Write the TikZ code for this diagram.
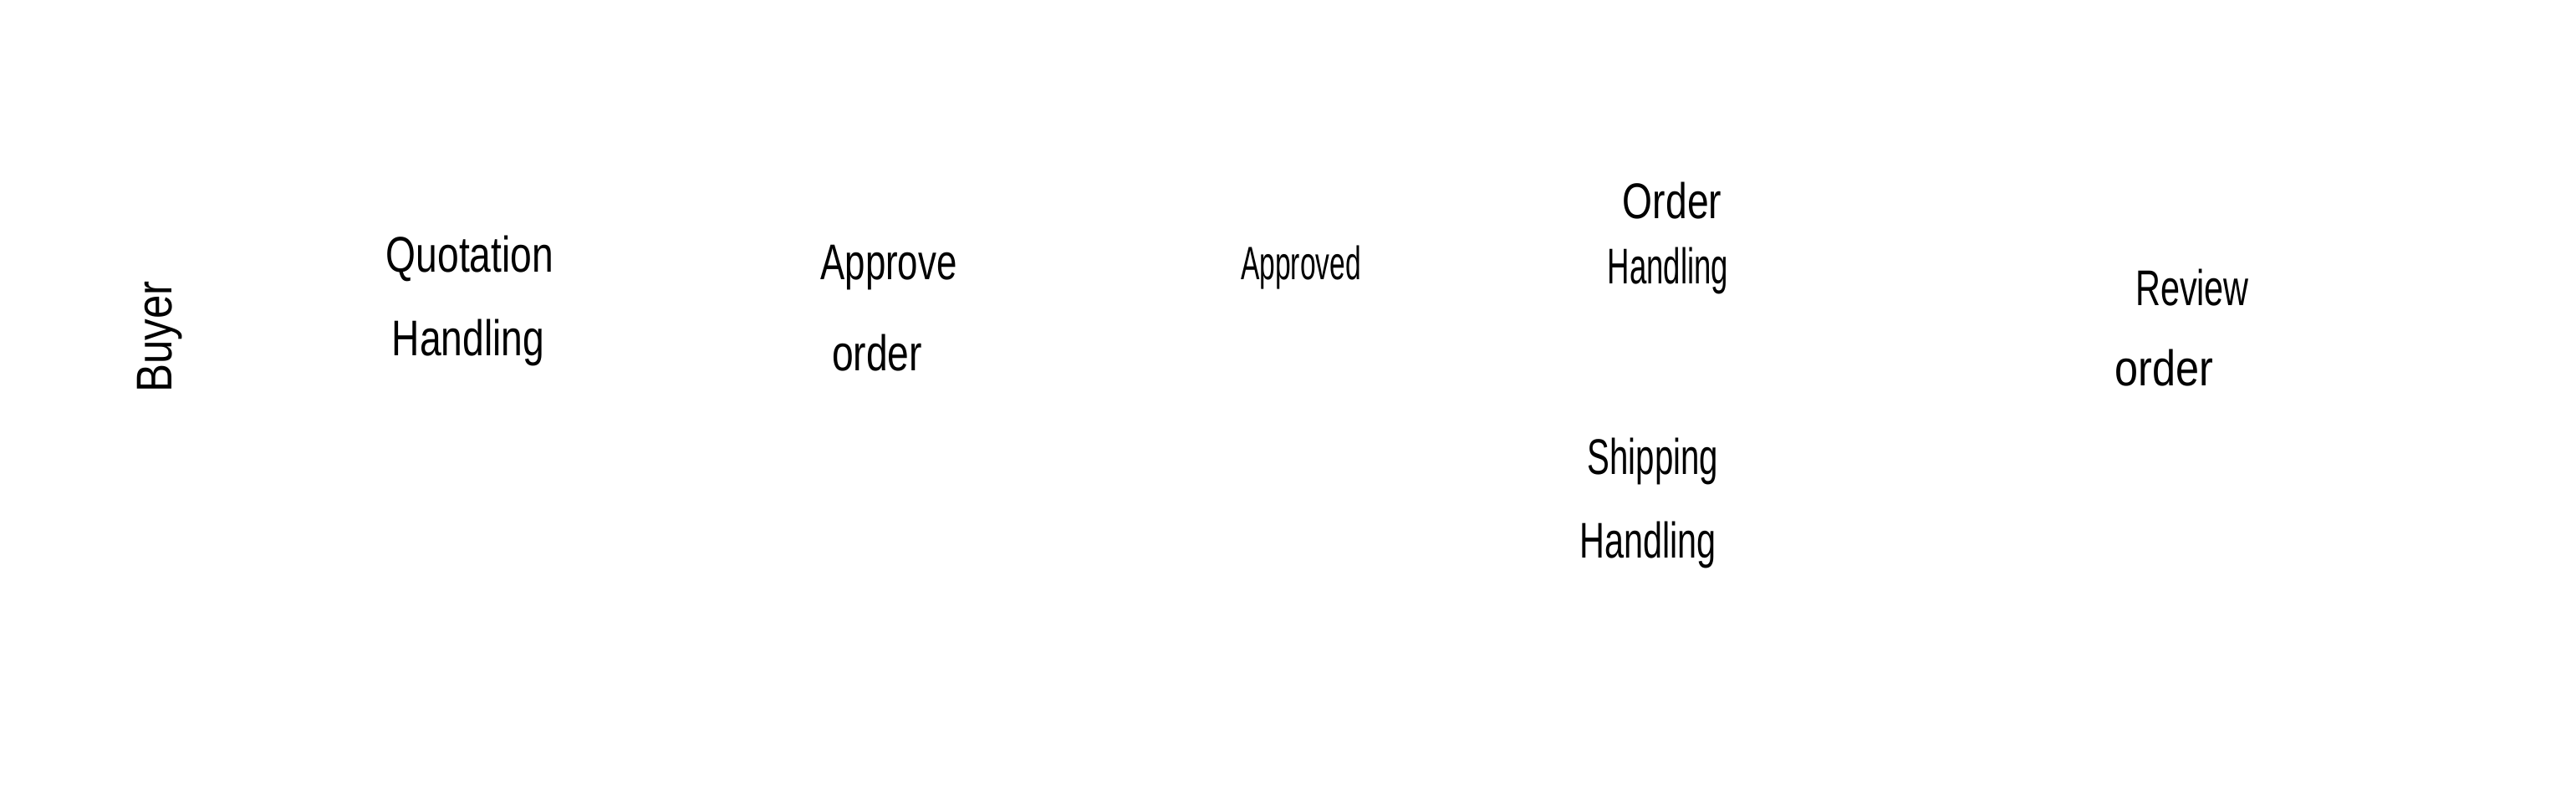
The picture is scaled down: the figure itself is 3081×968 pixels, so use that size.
\documentclass[tikz,border=0pt]{standalone}
\usepackage{fontspec}
\setmainfont{Liberation Sans}
\usepackage{graphicx}
\newcommand{\hw}[2][0.77]{\scalebox{#1}[1]{#2}}
\begin{document}
\begin{tikzpicture}[x=0.25pt,y=-0.25pt,
  lbl/.style={inner sep=0pt,font=\fontsize{15}{18}\selectfont,text=black}]
\useasboundingbox[fill=white] (0,0) rectangle (3081,968);
\node[lbl,rotate=90] (buyer) at (191,403) {\hw[0.85]{Buyer}};
\node[lbl] (quot) at (562,309) {\hw{Quotation}};
\node[lbl] (quoth) at (560,410) {\hw{Handling}};
\node[lbl] (appr) at (1063,320) {\hw[0.73]{Approve}};
\node[lbl] (appro) at (1049,422) {\hw{order}};
\node[lbl,font=\fontsize{14}{17}\selectfont] (approved) at (1556,320) {\hw[0.60]{Approved}};
\node[lbl] (ord) at (2000,240) {\hw{Order}};
\node[lbl] (ordh) at (1995,324) {\hw[0.61]{Handling}};
\node[lbl] (ship) at (1977,552) {\hw[0.67]{Shipping}};
\node[lbl] (shiph) at (1971,652) {\hw[0.69]{Handling}};
\node[lbl] (rev) at (2622,344) {\hw[0.69]{Review}};
\node[lbl] (revo) at (2588,440) {\hw[0.84]{order}};
\end{tikzpicture}
\end{document}
